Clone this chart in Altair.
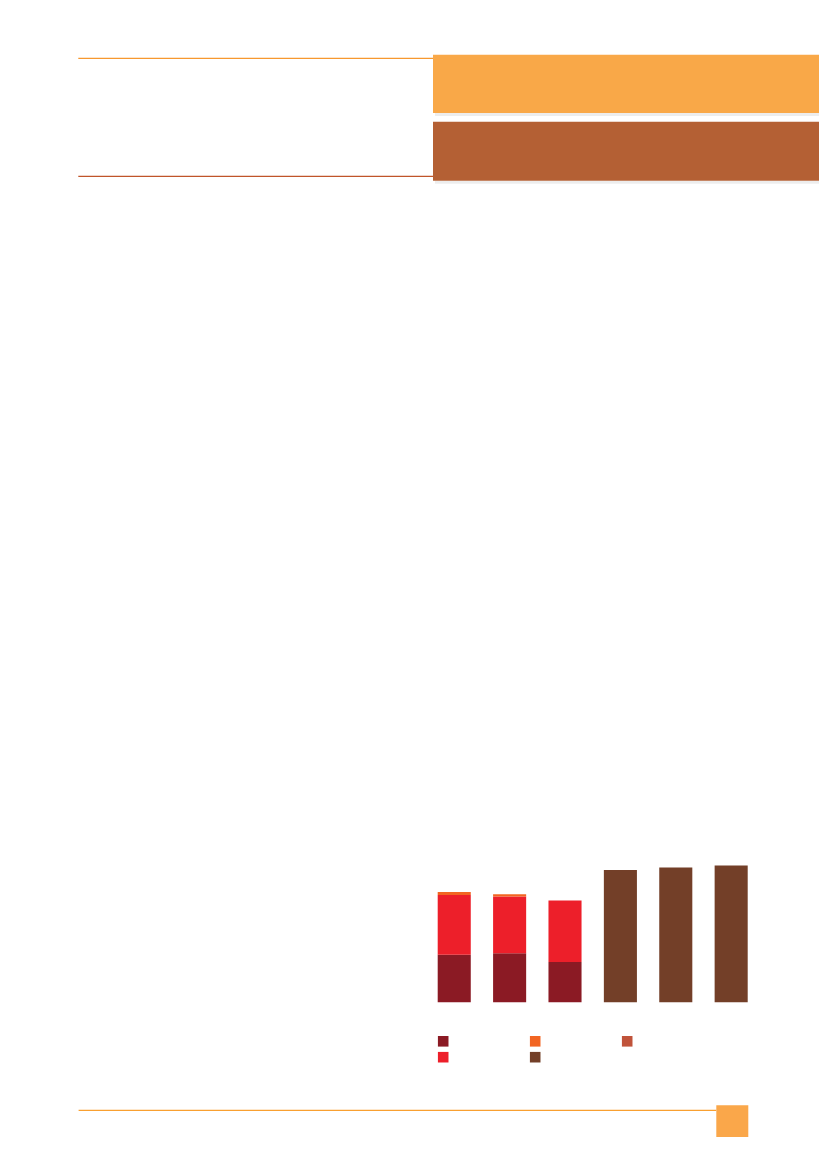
import altair as alt
import pandas as pd

# ---- data (units: arbitrary) ----
categories = ["C1", "C2", "C3", "C4", "C5", "C6"]
series_names = ["S1", "S2", "S3", "S4", "S5"]          # stacking order, bottom -> top
series_colors = ["#8B1A24", "#ED1F2A", "#F26522", "#733F28", "#C0533A"]
s1_dark_red = [47.5, 48.9, 40.2, 0, 0, 0]
s2_red = [59.8, 56.8, 61.5, 0, 0, 0]
s3_orange = [3.0, 2.3, 0, 0, 0, 0]
s4_brown = [0, 0, 0, 132.3, 134.6, 136.6]
s5_rust = [0, 0, 0, 0, 0, 0]
legend_order = ["S1", "S3", "S5", "S2", "S4"]          # row-major legend layout

values = [s1_dark_red, s2_red, s3_orange, s4_brown, s5_rust]
rows = []
for si, (name, vals) in enumerate(zip(series_names, values)):
    for cat, v in zip(categories, vals):
        rows.append({"category": cat, "series": name, "value": v, "stackorder": si})
df = pd.DataFrame(rows)

color_map = dict(zip(series_names, series_colors))
legend_colors = [color_map[s] for s in legend_order]

bars = alt.Chart(df).mark_bar().encode(
    x=alt.X("category:N", sort=categories, axis=None,
            scale=alt.Scale(range=[437.7, 747.7], paddingInner=0.403, paddingOuter=0)),
    y=alt.Y("value:Q", stack="zero", axis=None,
            scale=alt.Scale(domain=[0, 140], range=[1002.2, 862.2], nice=False, zero=True)),
    color=alt.Color("series:N", scale=alt.Scale(domain=legend_order, range=legend_colors),
                    legend=alt.Legend(orient="none", legendX=437.7, legendY=1035.7,
                                      direction="horizontal", columns=3, title=None,
                                      symbolType="square", symbolSize=112,
                                      symbolStrokeWidth=0, symbolOpacity=1,
                                      labelExpr="''", labelFontSize=10,
                                      columnPadding=77, rowPadding=5)),
    order=alt.Order("stackorder:Q", sort="ascending"),
)

dummy = pd.DataFrame({"k": [0]})
base = alt.Chart(dummy)

def rect(x, x2, y, y2, color, opacity=1.0):
    return base.mark_rect(color=color, opacity=opacity).encode(
        x=alt.value(x), x2=alt.value(x2), y=alt.value(y), y2=alt.value(y2))

def hline(x, x2, y, color, w=1.3):
    return base.mark_rule(color=color, strokeWidth=w).encode(
        x=alt.value(x), x2=alt.value(x2), y=alt.value(y))

decor = [
    # header band shadows
    rect(435, 830, 113, 116, "#999999", 0.18),
    rect(435, 830, 180.7, 183.7, "#999999", 0.18),
    # header bands
    rect(433, 830, 54.7, 113, "#F9A848"),
    rect(433, 830, 121.7, 180.7, "#B46034"),
    # header lines
    hline(78.3, 433, 58.3, "#F7982F"),
    hline(78.3, 433, 176.3, "#C0552A"),
    # footer line and page-number box
    hline(78.6, 716.3, 1110.3, "#F9A030"),
    rect(716.3, 748.3, 1105.3, 1137, "#FAA74A"),
]

# chart coordinates coincide with page coordinates (8px page margin cancelled)
chart = alt.layer(*decor, bars).properties(
    width=819, height=1145,
    autosize=alt.AutoSizeParams(type="none"),
    padding={"left": -8, "top": -8, "right": 0, "bottom": 0},
).configure_view(stroke=None)

chart.save("out.html", embed_options={"renderer": "svg", "actions": False})
